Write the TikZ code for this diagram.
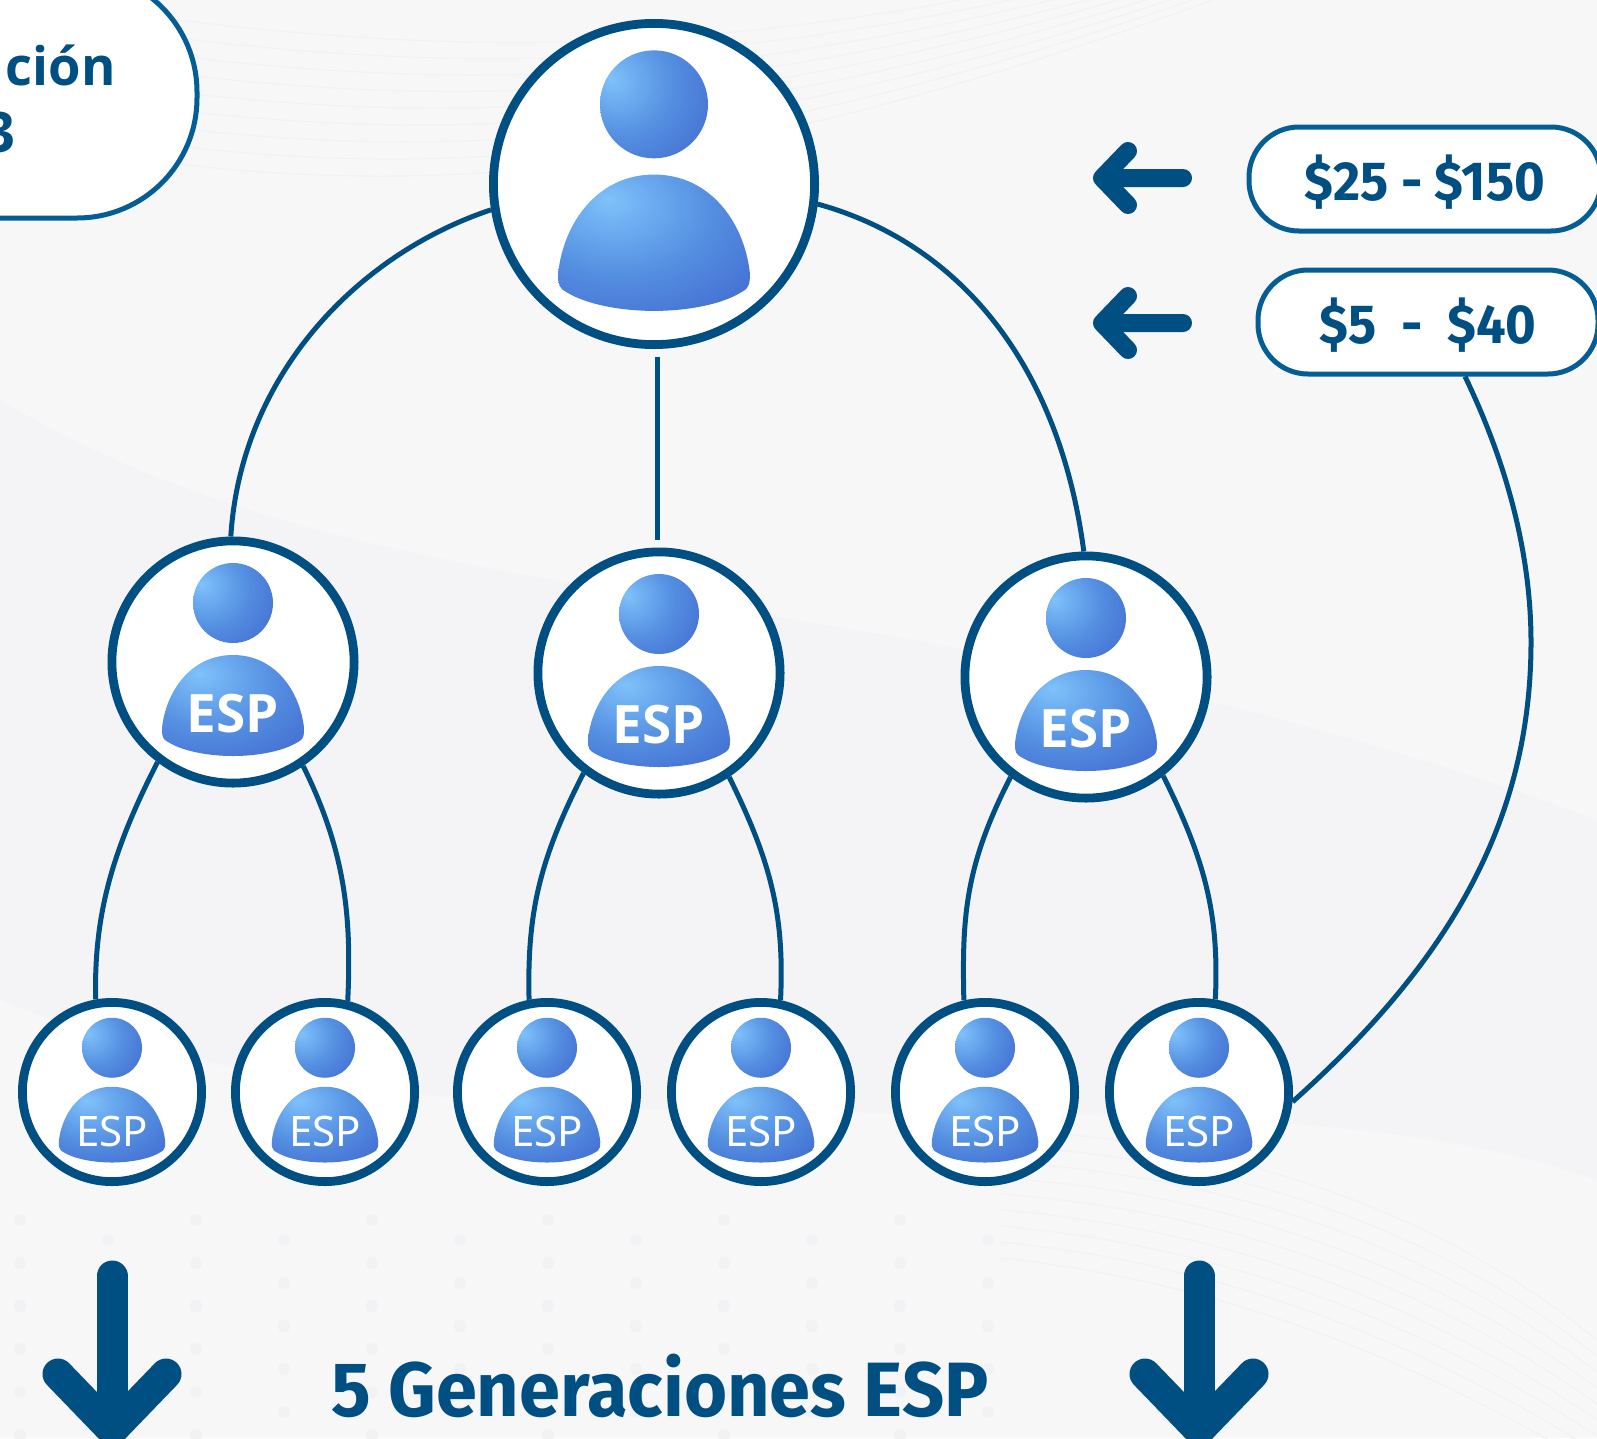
\documentclass[tikz,border=0pt]{standalone}
\usepackage{fontspec}
\setmainfont{Noto Sans}
\newfontfamily\barlowish{Fira Sans}
\newfontfamily\heavysans{Open Sans}
\usetikzlibrary{calc}
\definecolor{ring}{HTML}{004F82}
\definecolor{pill}{HTML}{045D94}
\definecolor{paper}{HTML}{F7F7F8}
\definecolor{faint}{HTML}{F1F2F4}
\pgfdeclareradialshading{headshade}{\pgfpoint{-20bp}{12bp}}{rgb(0bp)=(.50,.76,.98); rgb(8bp)=(.44,.69,.95); rgb(24bp)=(.33,.56,.88); rgb(50bp)=(.25,.40,.81); rgb(100bp)=(.25,.40,.81)}
\pgfdeclareradialshading{bodyshade}{\pgfpoint{-12bp}{16bp}}{rgb(0bp)=(.50,.76,.98); rgb(8bp)=(.44,.69,.95); rgb(24bp)=(.33,.56,.88); rgb(48bp)=(.25,.40,.81); rgb(100bp)=(.25,.40,.81)}
\newcommand{\persona}[3]{% position, scale
  \begin{scope}[shift={(#1,#2)},scale=#3]
    \path[shading=headshade] (0,-59) circle (40);
    \path[shading=bodyshade] (0,-7) .. controls (-42,-7) and (-67,29) .. (-71,66)
      .. controls (-71,72) and (-71,75) .. (-68,78)
      .. controls (-53,89) and (-25,94) .. (0,94)
      .. controls (25,94) and (53,89) .. (68,78)
      .. controls (71,75) and (71,72) .. (71,66)
      .. controls (67,29) and (42,-7) .. (0,-7) -- cycle;
  \end{scope}
}
\tikzset{
  x=1pt,y=-1pt,
  ringbig/.style={circle,draw=ring,fill=white,line width=8.8,minimum size=321.2,inner sep=0},
  ringmid/.style={circle,draw=ring,fill=white,line width=8.8,minimum size=242.2,inner sep=0},
  ringsmall/.style={circle,draw=ring,fill=white,line width=8.8,minimum size=179.2,inner sep=0},
  conn/.style={draw=ring,line width=5},
  pillbox/.style={draw=pill,fill=white,line width=5,rounded corners=50,inner sep=0,text=ring},
  pricetext/.style={font=\barlowish\bfseries\fontsize{55}{55}\selectfont},
  espbig/.style={text=white,inner sep=0,font=\heavysans\bfseries\fontsize{53}{53}\selectfont},
  espsmall/.style={text=white,inner sep=0,font=\fontsize{42}{42}\selectfont},
  thinarrow/.style={draw=ring,line width=18,line cap=round,line join=round},
  fatarrow/.style={draw=ring,line width=31,line cap=round,line join=miter},
}
\begin{document}
\begin{tikzpicture}
\useasboundingbox (0,0) rectangle (1597,1438);
\clip (0,0) rectangle (1597,1438);
\fill[paper] (0,0) rectangle (1597,1438);
% faint background texture
\fill[faint,opacity=.45] (0,400) .. controls (400,640) and (900,560) .. (1597,820) -- (1597,1180) .. controls (1200,1040) and (500,1200) .. (0,1000) -- cycle;
\foreach \a in {0,...,8}{
  \draw[faint,line width=1.2] (1000,{1130+\a*16}) .. controls (1250,{1140+\a*18}) and (1450,{1220+\a*20}) .. (1597,{1340+\a*16});
  \draw[faint,line width=1.2] (160,{18+\a*18}) .. controls (500,{60+\a*18}) and (800,{60+\a*12}) .. (1300,{-80+\a*6});
}
\foreach \i in {0,...,11}{\foreach \j in {0,...,5}{
  \fill[faint] ({20+\i*88},{1220+\j*43+mod(\i,2)*20}) circle (6);
}}
% top-left box
\node[draw=pill,fill=white,line width=5,rounded corners=120,inner sep=0,minimum width=500,minimum height=246] (boxa) at (-53,95) {};
\node[inner sep=0,anchor=base east,text=ring,font=\heavysans\bfseries\fontsize{53}{53}\selectfont] (boxtxa) at (116,85) {\scalebox{.99}[1]{ción}};
\node[inner sep=0,anchor=base east,text=ring,font=\heavysans\bfseries\fontsize{56}{56}\selectfont] (boxtxb) at (16,152) {3};
% price boxes
\node[pillbox,minimum width=352,minimum height=104] (pa) at (1425,179) {};
\node[pillbox,minimum width=340,minimum height=104] (pb) at (1428,322) {};
\node[pricetext,text=ring,inner sep=0] (pat) at (1425,182) {\scalebox{.955}[1]{\$25 - \$150}};
\node[pricetext,text=ring,inner sep=0] (pbt) at (1428,325) {\scalebox{.955}[1]{\$5\kern13pt\ -\kern13pt\ \$40}};
% arrows
\coordinate (a1t) at (1102,178); \coordinate (a1e) at (1183,178);
\draw[thinarrow] (a1e) -- (a1t) ++(26,-27) coordinate (a1u) (a1u) -- (a1t) -- ++(26,27);
\coordinate (a2t) at (1102,323); \coordinate (a2e) at (1183,323);
\draw[thinarrow] (a2e) -- (a2t) ++(26,-27) coordinate (a2u) (a2u) -- (a2t) -- ++(26,27);
\coordinate (d1s) at (112,1276); \coordinate (d1t) at (112,1430);
\draw[fatarrow] (d1s) -- (d1t);
\draw[fatarrow] (58,1374) -- (d1t) -- (166,1374);
\coordinate (d2s) at (1199,1276); \coordinate (d2t) at (1199,1430);
\draw[fatarrow] (d2s) -- (d2t);
\draw[fatarrow] (1145,1374) -- (d2t) -- (1253,1374);
% title
\node[inner sep=0,anchor=base west,text=ring,font=\barlowish\bfseries\fontsize{77}{77}\selectfont] (title) at (331,1416) {\scalebox{.96}[1]{5 Generaciones ESP}};
% circles
\node[ringbig] (top) at (654,184) {};
\node[ringmid] (ma) at (233,662) {};
\node[ringmid] (mb) at (659,673) {};
\node[ringmid] (mc) at (1086,677) {};
\node[ringsmall] (ba) at (112,1092) {};
\node[ringsmall] (bb) at (325,1092) {};
\node[ringsmall] (bc) at (547,1092) {};
\node[ringsmall] (bd) at (761,1092) {};
\node[ringsmall] (be) at (985,1092) {};
\node[ringsmall] (bf) at (1199,1092) {};
\persona{654}{184}{1.35}
\foreach \p/\q in {233/662,659/673,1086/677}{\persona{\p}{\q}{1}}
\foreach \p in {112,325,547,761,985,1199}{\persona{\p}{1092}{.75}}
\node[espbig] (ea) at (233,714) {ESP};
\node[espbig] (eb) at (659,725) {ESP};
\node[espbig] (ec) at (1086,729) {ESP};
\node[espsmall] (fa) at (112,1131) {ESP};
\node[espsmall] (fb) at (325,1131) {ESP};
\node[espsmall] (fc) at (547,1131) {ESP};
\node[espsmall] (fd) at (761,1131) {ESP};
\node[espsmall] (fe) at (985,1131) {ESP};
\node[espsmall] (ff) at (1199,1131) {ESP};
% connectors
\coordinate (vx) at (657,0);
\draw[conn,shorten <=8,shorten >=8] (top.south -| vx) -- (mb.north -| vx);
\draw[conn] (top.189) .. controls +(-135,45) and +(10,-160) .. (ma.91);
\draw[conn] (top.-7) .. controls +(145,40) and +(-24,-183) .. (mc.91);
\draw[conn] (ma.233) .. controls +(-45,88) and +(-2,-85) .. (ba.100);
\draw[conn] (ma.304) .. controls +(42,85) and +(4,-85) .. (bb.76);
\draw[conn] (mb.233) .. controls +(-45,88) and +(-2,-85) .. (bc.101);
\draw[conn] (mb.304) .. controls +(42,85) and +(4,-85) .. (bd.78);
\draw[conn] (mc.233) .. controls +(-45,88) and +(-2,-85) .. (be.103);
\draw[conn] (mc.308) .. controls +(42,85) and +(4,-85) .. (bf.80);
\coordinate (ctl) at (1531,642);
\draw[conn] (pb.south -| 1465,0) .. controls (1510,470) and (1531,560) .. (ctl) .. controls (1531,830) and (1440,970) .. (bf.-6);
\end{tikzpicture}
\end{document}
